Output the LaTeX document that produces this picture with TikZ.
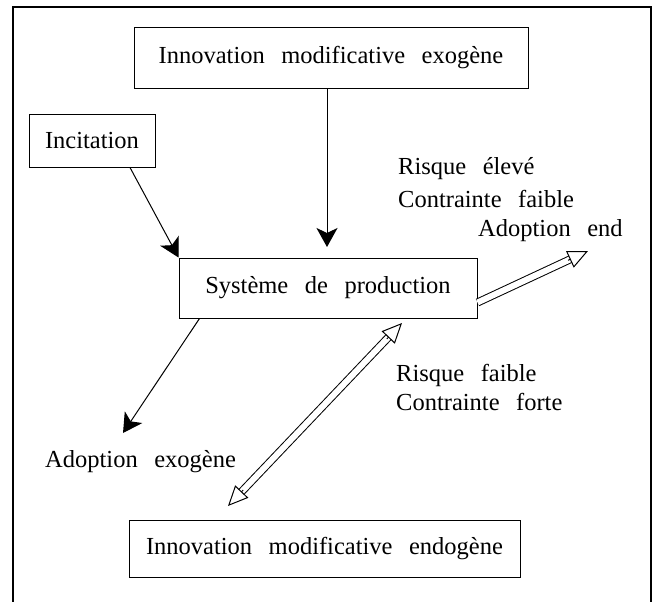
\documentclass[tikz,border=0pt]{standalone}
\usepackage{fontspec}
\setmainfont{Liberation Serif}[WordSpace=2.7]
\usetikzlibrary{arrows.meta,calc}
\begin{document}
\begin{tikzpicture}[x=1pt,y=-1pt,
  box/.style={draw, line width=1pt, inner sep=0pt, font=\fontsize{24.5}{29}\selectfont},
  lbl/.style={inner sep=0pt, anchor=base west, font=\fontsize{24.5}{29}\selectfont},
  conn/.style={line width=1pt, -{Stealth[length=19pt,width=21pt,inset=5pt]}},
  dline/.style={line width=1pt, double=white, double distance=6pt},
  otip/.style={line width=1pt, -{Triangle[open,length=20pt,width=18pt]}},
]
\useasboundingbox (0,0) rectangle (656,602);
\draw[line width=1.2pt] (13,602) -- (13,7) -- (651,7) -- (651,602);

\node[box, minimum width=394pt, minimum height=60pt] (top) at (331,58) {Innovation modificative exogène};
\node[box, minimum width=126pt, minimum height=53pt] (inc) at (92,140.5) {Incitation};
\node[box, minimum width=298pt, minimum height=60pt] (sys) at (328,288) {Système de production};
\node[box, minimum width=391pt, minimum height=57pt] (bot) at (324.5,548.5) {Innovation modificative endogène};

\node[lbl] (r1) at (398,174) {Risque élevé};
\node[lbl] (c1) at (398,207) {Contrainte faible};
\node[lbl] (ae) at (478,236) {Adoption end};
\node[lbl] (r2) at (396,381) {Risque faible};
\node[lbl] (c2) at (396,410) {Contrainte forte};
\node[lbl] (ax) at (45,467) {Adoption exogène};

% exogenous innovation -> system
\coordinate (t1) at (327,247);
\draw[conn] (top.south -| t1) -- (t1);
% incitation -> system
\draw[conn] ($(inc.south)+(38,0)$) -- (sys.north west);
% system -> adoption exogene
\coordinate (t3) at (123,433);
\draw[conn] ($(sys.south west)+(21,0)$) -- (t3);
% system -> adoption end (hollow)
\coordinate (s4) at ($(sys.east)+(0,14.5)$);
\coordinate (t4) at (588,251);
\draw[dline, shorten >=19.5pt] (s4) -- (t4);
\draw[otip] ($(t4)!22pt!(s4)$) -- (t4);
% double hollow arrow
\coordinate (b1) at (228,506);
\coordinate (b2) at (402,323);
\draw[dline, shorten >=19.5pt, shorten <=19.5pt] (b1) -- (b2);
\draw[otip] ($(b1)!22pt!(b2)$) -- (b1);
\draw[otip] ($(b2)!22pt!(b1)$) -- (b2);
\end{tikzpicture}
\end{document}
